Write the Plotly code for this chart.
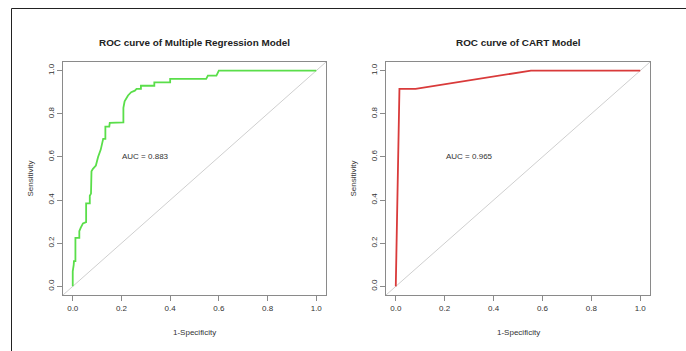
import plotly.graph_objects as go

W, H = 686, 351

# Multiple regression ROC (1-specificity, sensitivity)
mr_fpr = [0.0, 0.0, 0.004, 0.005, 0.011, 0.011, 0.027, 0.027, 0.033, 0.042, 0.055, 0.055,
          0.070, 0.070, 0.075, 0.077, 0.083, 0.095, 0.104, 0.115, 0.125, 0.134, 0.134,
          0.150, 0.152, 0.172, 0.208, 0.208, 0.213, 0.227, 0.240, 0.255, 0.262, 0.280,
          0.280, 0.335, 0.335, 0.400, 0.400, 0.548, 0.555, 0.590, 0.600, 1.0]
mr_tpr = [0.0, 0.07, 0.10, 0.117, 0.117, 0.225, 0.225, 0.256, 0.272, 0.292, 0.298, 0.385,
          0.385, 0.420, 0.430, 0.534, 0.545, 0.560, 0.600, 0.634, 0.684, 0.684, 0.740,
          0.740, 0.758, 0.758, 0.760, 0.827, 0.858, 0.885, 0.900, 0.907, 0.915, 0.915,
          0.930, 0.930, 0.946, 0.946, 0.962, 0.962, 0.977, 0.977, 1.0, 1.0]

# CART ROC
cart_fpr = [0.0, 0.015, 0.081, 0.553, 1.0]
cart_tpr = [0.0, 0.915, 0.915, 1.0, 1.0]

titles = ["ROC curve of Multiple Regression Model", "ROC curve of CART Model"]
auc_labels = ["AUC = 0.883", "AUC = 0.965"]
tick_vals = [0.0, 0.2, 0.4, 0.6, 0.8, 1.0]
tick_text = ["0.0", "0.2", "0.4", "0.6", "0.8", "1.0"]
diag = [-0.04, 1.04]

FONT = "Liberation Sans, Arial, sans-serif"
TXT = "#333333"
AX = "#8a8a8a"

fig = go.Figure()

# left panel
fig.add_trace(go.Scatter(x=diag, y=diag, mode="lines", line=dict(color="#cfcfcf", width=1),
                         xaxis="x", yaxis="y", hoverinfo="skip"))
fig.add_trace(go.Scatter(x=mr_fpr, y=mr_tpr, mode="lines", line=dict(color="#5ade4a", width=1.8),
                         xaxis="x", yaxis="y"))
# right panel
fig.add_trace(go.Scatter(x=diag, y=diag, mode="lines", line=dict(color="#cfcfcf", width=1),
                         xaxis="x2", yaxis="y2", hoverinfo="skip"))
fig.add_trace(go.Scatter(x=cart_fpr, y=cart_tpr, mode="lines", line=dict(color="#d93a3a", width=1.8),
                         xaxis="x2", yaxis="y2"))

ydom = [1 - 295 / H, 1 - 62 / H]
xdoms = [[63 / W, 326 / W], [386 / W, 650 / W]]

def xax(dom, anchor):
    return dict(domain=dom, anchor=anchor, range=[-0.04, 1.04], showgrid=False, zeroline=False,
                tickvals=tick_vals, ticktext=tick_text, ticks="outside", ticklen=5,
                tickcolor=AX, tickwidth=1, showline=True, linecolor=AX, linewidth=1, mirror=True,
                tickfont=dict(family=FONT, size=8, color=TXT))

def yax(anchor):
    return dict(domain=ydom, anchor=anchor, range=[-0.04, 1.04], showgrid=False, zeroline=False,
                tickvals=tick_vals, ticktext=tick_text, ticks="outside", ticklen=5,
                tickcolor=AX, tickwidth=1, showline=True, linecolor=AX, linewidth=1, mirror=True,
                tickangle=-90, tickfont=dict(family=FONT, size=8, color=TXT))

annotations = []
for i, dom in enumerate(xdoms):
    cx = (dom[0] + dom[1]) / 2
    annotations.append(dict(text="<b>" + titles[i] + "</b>", x=cx, y=1 - 43 / H, xref="paper",
                            yref="paper", showarrow=False, xanchor="center", yanchor="middle",
                            font=dict(family=FONT, size=9.9, color="#222222")))
    annotations.append(dict(text="1-Specificity", x=cx, y=1 - 332 / H, xref="paper", yref="paper",
                            showarrow=False, xanchor="center", yanchor="middle",
                            font=dict(family=FONT, size=8, color=TXT)))
    annotations.append(dict(text="Sensitivity", x=dom[0] - 33 / W, y=(ydom[0] + ydom[1]) / 2,
                            xref="paper", yref="paper", showarrow=False, textangle=-90,
                            xanchor="center", yanchor="middle",
                            font=dict(family=FONT, size=8, color=TXT)))
    xr = "x" if i == 0 else "x2"
    yr = "y" if i == 0 else "y2"
    annotations.append(dict(text=auc_labels[i], x=0.3, y=0.6, xref=xr, yref=yr, showarrow=False,
                            xanchor="center", yanchor="middle",
                            font=dict(family=FONT, size=8, color=TXT)))

fig.update_layout(
    width=W, height=H, margin=dict(l=0, r=0, t=0, b=0),
    paper_bgcolor="white", plot_bgcolor="white", showlegend=False,
    xaxis=xax(xdoms[0], "y"), yaxis=yax("x"),
    xaxis2=xax(xdoms[1], "y2"), yaxis2=yax("x2"),
    annotations=annotations,
    shapes=[dict(type="rect", xref="paper", yref="paper", x0=11.5 / W, x1=1.2, y0=-0.2,
                 y1=1 - 8.5 / H, line=dict(color="#222222", width=1), fillcolor="rgba(0,0,0,0)")],
)

fig.write_html("out.html")
